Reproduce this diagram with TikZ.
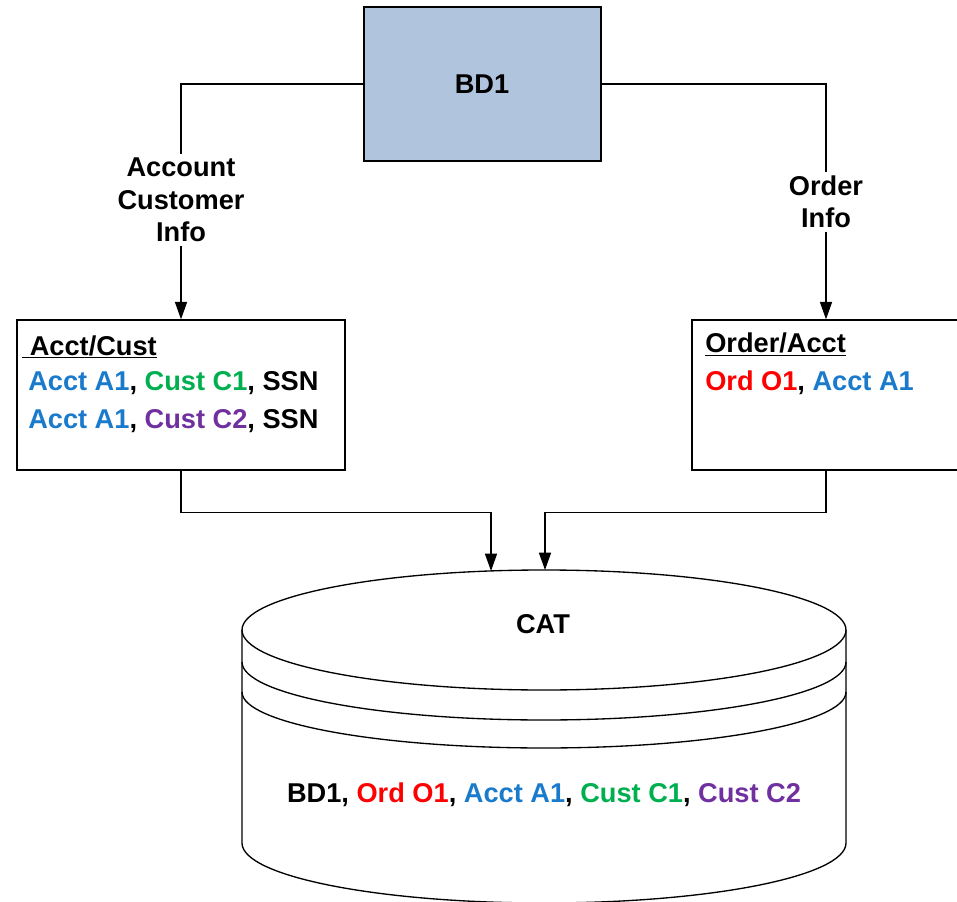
\documentclass[tikz,border=0pt]{standalone}
\usepackage{fontspec}
\setmainfont{Liberation Sans}
\usetikzlibrary{arrows.meta}
\definecolor{boxblue}{HTML}{B0C4DE}
\definecolor{cblue}{HTML}{1A7ACB}
\definecolor{cgreen}{HTML}{00B050}
\definecolor{cpurple}{HTML}{7030A0}
\definecolor{cred}{HTML}{FF0000}
\tikzset{
  txt/.style={font=\fontsize{20.4}{24.4}\selectfont\bfseries, inner sep=0pt},
  boxed/.style={draw, line width=1pt, inner sep=0pt},
  wire/.style={line width=1pt},
  arr/.style={wire, -{Triangle[length=13pt, width=9pt]}},
  lbl/.style={txt, fill=white, align=center, inner sep=3pt},
}
\begin{document}
\begin{tikzpicture}[x=0.75pt, y=-0.75pt]
\useasboundingbox (0,0) rectangle (957,902);

% source box
\node[boxed, fill=boxblue, minimum width=237*0.75pt, minimum height=154*0.75pt] (bd1) at (482.5,84) {};
\node[txt] (bd1t) at (482,84) {BD1};

% intermediate tables
\node[boxed, fill=white, minimum width=328*0.75pt, minimum height=150*0.75pt] (acct) at (181,395) {};
\node[boxed, fill=white, minimum width=268*0.75pt, minimum height=150*0.75pt] (order) at (826,395) {};

\node[txt, anchor=base west] (acct1) at (22,355) {\underline{\ Acct/Cust}};
\node[txt, anchor=base west] (acct2) at (28,391) {\textcolor{cblue}{Acct A1}, \textcolor{cgreen}{Cust C1}, SSN};
\node[txt, anchor=base west] (acct3) at (28,428) {\textcolor{cblue}{Acct A1}, \textcolor{cpurple}{Cust C2}, SSN};

\node[txt, anchor=base west] (ord1) at (705,353) {\underline{Order/Acct}};
\node[txt, anchor=base west] (ord2) at (705,391) {\textcolor{cred}{Ord O1}, \textcolor{cblue}{Acct A1}};

% catalogue cylinder (y axis points down, so angle 90 is the lower side)
\filldraw[fill=white, line width=1pt]
  (242,630) -- (242,843) arc[start angle=180, end angle=0, x radius=302, y radius=60]
  -- (846,630) arc[start angle=0, end angle=-180, x radius=302, y radius=60] -- cycle;
\draw[line width=1pt] (242,630) arc[start angle=180, end angle=0, x radius=302, y radius=60];
\draw[line width=1pt] (242,662) arc[start angle=180, end angle=0, x radius=302, y radius=58];
\draw[line width=1pt] (242,692) arc[start angle=180, end angle=0, x radius=302, y radius=56];
\node[txt] (cat) at (543,624) {CAT};
\node[txt] (catall) at (544,795) {BD1, \textcolor{cred}{Ord O1}, \textcolor{cblue}{Acct A1}, \textcolor{cgreen}{Cust C1}, \textcolor{cpurple}{Cust C2}};
\coordinate (catl) at (491,571);
\coordinate (catr) at (545,570);

% connectors
\draw[arr] (bd1.west) -| (acct.north);
\draw[arr] (bd1.east) -| (order.north);
\draw[arr] (acct.south) -- ++(0,42) -| (catl);
\draw[arr] (order.south) -- ++(0,42) -| (catr);

% connector labels
\node[lbl] (lblacct) at (181,200) {Account\\Customer\\Info};
\node[lbl] (lblord) at (826,202) {Order\\Info};
\end{tikzpicture}
\end{document}
